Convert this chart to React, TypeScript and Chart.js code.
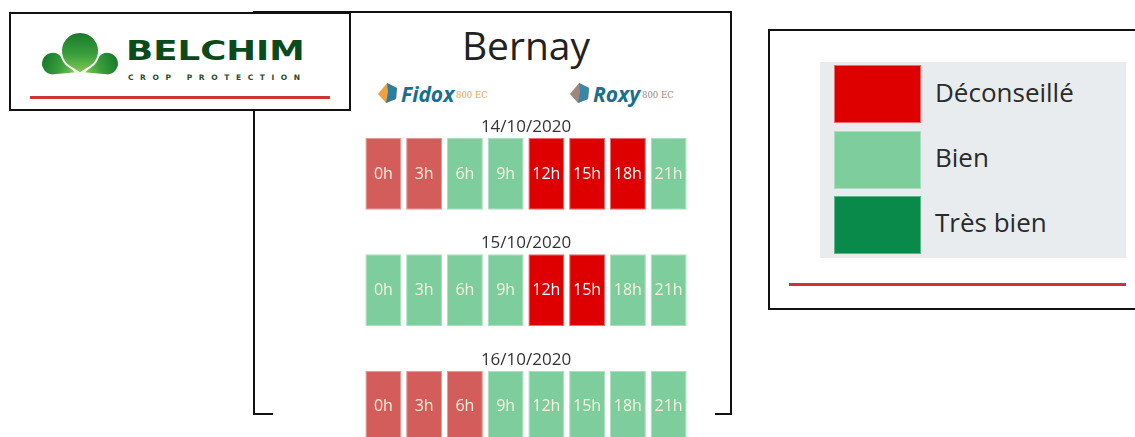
import React, { useEffect, useRef } from "react";
import { Chart, registerables } from "chart.js";

Chart.register(...registerables);

const TITLE = "Bernay";
const HOURS = ["0h", "3h", "6h", "9h", "12h", "15h", "18h", "21h"];
const DATES = ["14/10/2020", "15/10/2020", "16/10/2020"];
const DAY1 = ["moyen", "moyen", "bien", "bien", "deconseille", "deconseille", "deconseille", "bien"];
const DAY2 = ["bien", "bien", "bien", "bien", "deconseille", "deconseille", "bien", "bien"];
const DAY3 = ["moyen", "moyen", "moyen", "bien", "bien", "bien", "bien", "bien"];
const DAYS = [DAY1, DAY2, DAY3];
const LEGEND_KEYS = ["deconseille", "bien", "tresbien"];
const LEGEND_LABELS = ["Déconseillé", "Bien", "Très bien"];

const FILL: Record<string, string> = {
  deconseille: "#de0000",
  bien: "#7ecd9c",
  tresbien: "#0a8a4a",
  moyen: "#d35d5a",
};
const EDGE: Record<string, string> = {
  deconseille: "#ee6b6b",
  bien: "#a8dfbd",
  tresbien: "#5fb588",
  moyen: "#e59895",
};

const ROW_FILL = 0.616;

function teardrop(r: number, d: number) {
  const px = r * Math.sqrt(1 - (r * r) / (d * d));
  const py = -d + (r * r) / d;
  return `M 0 0 L ${px} ${py} A ${r} ${r} 0 1 0 ${-px} ${py} Z`;
}

const labelPlugin = {
  id: "cellLabels",
  afterDatasetsDraw(chart: any) {
    const ctx = chart.ctx;
    const y = chart.scales.y;
    const area = chart.chartArea;
    ctx.save();
    ctx.textAlign = "center";
    ctx.textBaseline = "alphabetic";
    DATES.forEach((date, d) => {
      const top = y.getPixelForValue(d);
      ctx.fillStyle = "#333333";
      ctx.font = "17px 'Open Sans'";
      ctx.fillText(date, (area.left + area.right) / 2, top - 6);
      const meta = chart.getDatasetMeta(d);
      ctx.font = "16px 'Open Sans'";
      meta.data.forEach((bar: any, i: number) => {
        const st = DAYS[d][i];
        ctx.fillStyle = st === "deconseille" ? "#ffffff" : "#f6f1df";
        ctx.fillText(HOURS[i], bar.x, top + 40.5);
      });
    });
    ctx.restore();
  },
};

function Heatmap() {
  const ref = useRef<HTMLCanvasElement>(null);
  useEffect(() => {
    if (!ref.current) return;
    const chart = new Chart(ref.current, {
      type: "bar",
      data: {
        labels: HOURS,
        datasets: DATES.map((date, d) => ({
          label: date,
          data: HOURS.map(() => [d, d + ROW_FILL]) as any,
          backgroundColor: DAYS[d].map((s) => FILL[s]),
          borderColor: DAYS[d].map((s) => EDGE[s]),
          borderWidth: 1,
          borderSkipped: false,
          grouped: false,
          categoryPercentage: 36 / 40.75,
          barPercentage: 1,
        })),
      },
      options: {
        animation: false,
        responsive: false,
        maintainAspectRatio: false,
        layout: { padding: { top: 28, left: 0, right: 0, bottom: 0 } },
        plugins: { legend: { display: false }, tooltip: { enabled: false } },
        scales: {
          x: { display: false, offset: true },
          y: { display: false, reverse: true, min: 0, max: 3 },
        },
      },
      plugins: [labelPlugin],
    });
    return () => chart.destroy();
  }, []);
  return (
    <canvas
      ref={ref}
      width={326}
      height={377}
      style={{ position: "absolute", left: 363, top: 110, width: 326, height: 377 }}
    />
  );
}

const abs = (s: React.CSSProperties): React.CSSProperties => ({ position: "absolute", ...s });

function ProductLogo({ x, name, c1, c2, ecColor }: { x: number; name: string; c1: string; c2: string; ecColor: string }) {
  return (
    <div style={abs({ left: x, top: 82, width: 110, height: 26 })}>
      <svg width={22} height={22} style={abs({ left: 0, top: 0 })}>
        <polygon points="10,1 20,6 19,17 9,21 1,12" fill={c1} />
        <polygon points="10,1 20,6 19,17 9,21 11,10" fill={c2} />
      </svg>
      <div
        style={abs({
          left: 24,
          top: 2,
          fontFamily: "'Open Sans'",
          fontWeight: 700,
          fontStyle: "italic",
          fontSize: 21,
          lineHeight: "21px",
          color: "#1b6f8c",
          whiteSpace: "nowrap",
        })}
      >
        {name}
      </div>
      <div
        style={abs({
          left: name === "Fidox" ? 79 : 73,
          top: 9,
          fontFamily: "'DejaVu Serif'",
          fontSize: 8.5,
          lineHeight: "8.5px",
          color: ecColor,
          whiteSpace: "nowrap",
        })}
      >
        800 EC
      </div>
    </div>
  );
}

export default function App() {
  return (
    <div
      style={{
        position: "fixed",
        left: 0,
        top: 0,
        width: 1135,
        height: 437,
        overflow: "hidden",
        background: "#ffffff",
        fontFamily: "'Open Sans'",
      }}
    >
      {/* middle panel frame */}
      <div style={abs({ left: 253, top: 11, width: 479, height: 2, background: "#111" })} />
      <div style={abs({ left: 253, top: 11, width: 2, height: 404, background: "#111" })} />
      <div style={abs({ left: 253, top: 413, width: 20, height: 2, background: "#111" })} />
      <div style={abs({ left: 730, top: 11, width: 2, height: 404, background: "#111" })} />
      <div style={abs({ left: 715, top: 413, width: 17, height: 2, background: "#111" })} />

      <div
        style={abs({
          left: 426,
          top: 25.4,
          width: 200,
          textAlign: "center",
          fontSize: 39,
          lineHeight: "39px",
          color: "#222",
        })}
      >
        {TITLE}
      </div>

      <ProductLogo x={377} name="Fidox" c1="#f0a040" c2="#2a7fa0" ecColor="#e8a050" />
      <ProductLogo x={569} name="Roxy" c1="#a08878" c2="#3a86a8" ecColor="#9a8478" />

      <Heatmap />

      {/* logo box */}
      <div
        style={abs({
          left: 9,
          top: 12,
          width: 342,
          height: 99,
          boxSizing: "border-box",
          border: "2px solid #111",
          background: "#fff",
        })}
      >
        <svg width={140} height={100} style={abs({ left: -11, top: -14 })}>
          <defs>
            <linearGradient id="g1" x1="0" y1="0" x2="0" y2="1">
              <stop offset="0" stopColor="#17782a" />
              <stop offset="0.55" stopColor="#3b9f3c" />
              <stop offset="1" stopColor="#86cc52" />
            </linearGradient>
          </defs>
          <path d={teardrop(11.5, 25)} transform="translate(76,73) rotate(-68)" fill="url(#g1)" stroke="#fff" strokeWidth={1.5} />
          <path d={teardrop(11.5, 25)} transform="translate(84,73) rotate(68)" fill="url(#g1)" stroke="#fff" strokeWidth={1.5} />
          <path d={teardrop(19, 22.3)} transform="translate(80,73.3)" fill="url(#g1)" stroke="#fff" strokeWidth={2} />
        </svg>
        <div
          style={abs({
            left: 115,
            top: 22.8,
            fontFamily: "'DejaVu Sans'",
            fontWeight: 700,
            fontSize: 27.4,
            lineHeight: "27.4px",
            color: "#0b4a1a",
            transform: "scaleX(1.3)",
            transformOrigin: "left center",
            whiteSpace: "nowrap",
          })}
        >
          BELCHIM
        </div>
        <div
          style={abs({
            left: 117,
            top: 59.5,
            fontFamily: "'DejaVu Sans'",
            fontWeight: 700,
            fontSize: 7.5,
            lineHeight: "7.5px",
            letterSpacing: 6.6,
            color: "#2a4a2a",
            whiteSpace: "nowrap",
          })}
        >
          CROP PROTECTION
        </div>
        <div style={abs({ left: 19, top: 82, width: 300, height: 3, background: "#d13438" })} />
      </div>

      {/* legend box */}
      <div
        style={abs({
          left: 768,
          top: 29,
          width: 420,
          height: 281,
          boxSizing: "border-box",
          border: "2px solid #111",
          background: "#fff",
        })}
      />
      <div style={abs({ left: 820, top: 62, width: 306, height: 196, background: "#e9ecef" })} />
      {LEGEND_KEYS.map((k, i) => (
        <React.Fragment key={k}>
          <div
            style={abs({
              left: 834,
              top: 65 + i * 65.5,
              width: 87,
              height: 58,
              boxSizing: "border-box",
              background: FILL[k],
              border: `1px solid ${EDGE[k]}`,
            })}
          />
          <div
            style={abs({
              left: 935,
              top: 78.6 + i * 65,
              fontSize: 26,
              lineHeight: "26px",
              color: "#2a2a2a",
              whiteSpace: "nowrap",
            })}
          >
            {LEGEND_LABELS[i]}
          </div>
        </React.Fragment>
      ))}
      <div style={abs({ left: 789, top: 283, width: 337, height: 3, background: "#cc3333" })} />
    </div>
  );
}
